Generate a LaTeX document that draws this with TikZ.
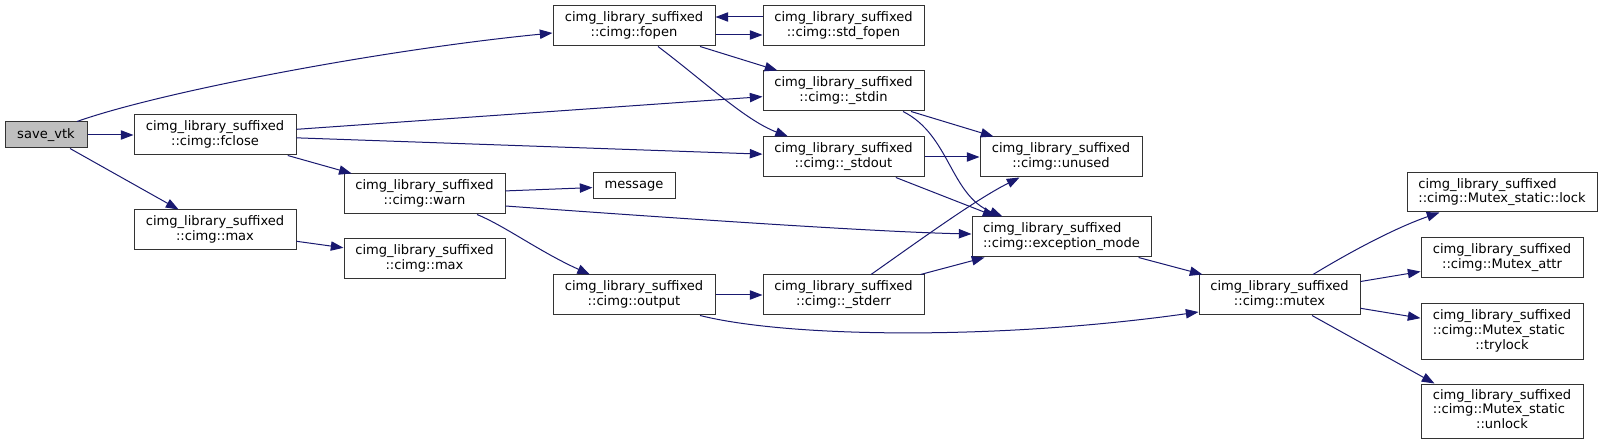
\documentclass[tikz,border=0pt]{standalone}
\usepackage{fontspec}
\setmainfont{DejaVu Sans}
\usetikzlibrary{arrows.meta,calc}
\definecolor{edgec}{HTML}{191970}
\definecolor{boxc}{HTML}{333333}
\definecolor{rootc}{HTML}{BFBFBF}
\newcommand{\twoline}[2]{\begin{tabular}{@{}l@{}}#1\\\multicolumn{1}{@{}c@{}}{#2}\end{tabular}}
\newcommand{\threeline}[3]{\begin{tabular}{@{}l@{}}#1\\#2\\\multicolumn{1}{@{}c@{}}{#3}\end{tabular}}
\newcommand{\cls}{cimg\_library\_suffixed}
\begin{document}
\begin{tikzpicture}[x=0.75pt,y=-0.75pt,
  every node/.style={font=\fontsize{9.8}{11}\selectfont},
  box/.style={draw=boxc, line width=0.75pt, fill=white, inner sep=0pt, rectangle},
  sz/.style 2 args={minimum width=#1*0.75pt, minimum height=#2*0.75pt},
  edge/.style={draw=edgec, line width=0.75pt, -{Triangle[length=9.5pt,width=7pt]}},
]
\useasboundingbox (0,0) rectangle (1603,445);
\fill[white] (0,0) rectangle (1603,445);

\node[box,sz={82}{26},fill=rootc] (save) at (46,135) {save\_vtk};
\node[box,sz={162}{40}] (fclose) at (215,135) {\twoline{\cls}{::cimg::fclose}};
\node[box,sz={162}{40}] (max1) at (215,230) {\twoline{\cls}{::cimg::max}};
\node[box,sz={161}{40}] (warn) at (424.5,194) {\twoline{\cls}{::cimg::warn}};
\node[box,sz={161}{40}] (max2) at (424.5,259) {\twoline{\cls}{::cimg::max}};
\node[box,sz={82}{26}] (message) at (634,186) {message};
\node[box,sz={162}{40}] (fopen) at (634,26) {\twoline{\cls}{::cimg::fopen}};
\node[box,sz={162}{40}] (output) at (634,295) {\twoline{\cls}{::cimg::output}};
\node[box,sz={161}{40}] (stdfopen) at (843.5,26) {\twoline{\cls}{::cimg::std\_fopen}};
\node[box,sz={161}{40}] (stdin) at (843.5,91) {\twoline{\cls}{::cimg::\_stdin}};
\node[box,sz={161}{40}] (stdout) at (843.5,157) {\twoline{\cls}{::cimg::\_stdout}};
\node[box,sz={161}{40}] (stderr) at (843.5,295) {\twoline{\cls}{::cimg::\_stderr}};
\node[box,sz={162}{40}] (unused) at (1061,157) {\twoline{\cls}{::cimg::unused}};
\node[box,sz={179}{40}] (excmode) at (1061.5,237) {\twoline{\cls}{::cimg::exception\_mode}};
\node[box,sz={161}{40}] (mutex) at (1279.5,295) {\twoline{\cls}{::cimg::mutex}};
\node[box,sz={190}{39}] (lock) at (1502,192.5) {\twoline{\cls}{::cimg::Mutex\_static::lock}};
\node[box,sz={162}{40}] (attr) at (1502,258) {\twoline{\cls}{::cimg::Mutex\_attr}};
\node[box,sz={162}{55}] (trylock) at (1502,331.5) {\threeline{\cls}{::cimg::Mutex\_static}{::trylock}};
\node[box,sz={162}{54}] (unlock) at (1502,411) {\threeline{\cls}{::cimg::Mutex\_static}{::unlock}};

\draw[edge] ($(save.north)+(31,0)$) .. controls (160,92) and (380,50) .. ($(fopen.west)+(0,7)$);
\draw[edge] (save) -- (fclose);
\draw[edge] (save) -- (max1);
\draw[edge] (fclose) -- (stdin);
\draw[edge] (fclose) -- (stdout);
\draw[edge] (fclose) -- (warn);
\draw[edge] (max1) -- (max2);
\draw[edge] (warn) -- (message);
\draw[edge] ($(warn.east)+(0,12)$) .. controls (700,220) and (880,232) .. ($(excmode.west)+(0,-3)$);
\draw[edge] ($(warn.south)+(52.5,0)$) .. controls (505,226) and (540,252) .. ($(output.north)+(-44,0)$);
\draw[edge] ($(fopen.east)+(0,9)$) -- ($(stdfopen.west)+(0,9)$);
\draw[edge] ($(stdfopen.west)+(0,-9)$) -- ($(fopen.east)+(0,-9)$);
\draw[edge] (fopen) -- (stdin);
\draw[edge] ($(fopen.south)+(24,0)$) .. controls (705,82) and (745,120) .. ($(stdout.north)+(-55.5,0)$);
\draw[edge] (stdin) -- (unused);
\draw[edge] ($(stdin.south)+(59.5,0)$) .. controls (950,135) and (950,195) .. ($(excmode.north west)+(31,0)$);
\draw[edge] (stdout) -- (unused);
\draw[edge] (stdout) -- ($(excmode.north west)+(24,0)$);
\draw[edge] ($(stderr.north)+(27.5,0)$) .. controls (920,240) and (975,200) .. ($(unused.south west)+(40,0)$);
\draw[edge] (stderr) -- (excmode);
\draw[edge] (output) -- (stderr);
\draw[edge] ($(output.south)+(66,0)$) .. controls (790,338) and (1000,340) .. ($(mutex.west)+(0,17)$);
\draw[edge] (excmode) -- (mutex);
\draw[edge] ($(mutex.north)+(33.5,0)$) .. controls (1350,252) and (1395,228) .. ($(lock.south west)+(33,0)$);
\draw[edge] (mutex) -- (attr);
\draw[edge] (mutex) -- (trylock);
\draw[edge] ($(mutex.south)+(32.5,0)$) -- ($(unlock.north west)+(14,0)$);
\end{tikzpicture}
\end{document}
